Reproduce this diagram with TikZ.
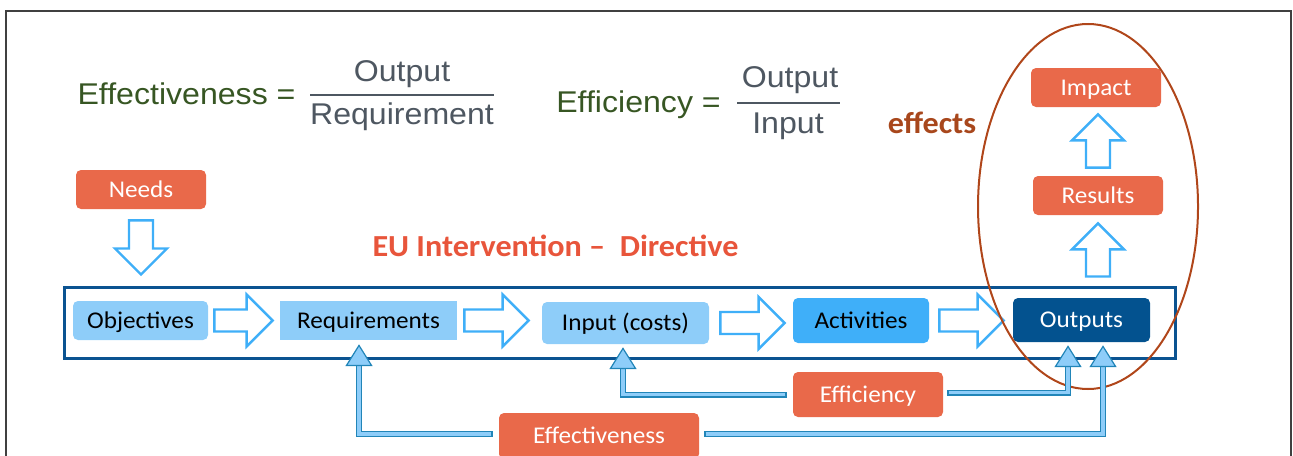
\documentclass[tikz,border=0pt]{standalone}
\usepackage{fontspec}
\setmainfont{Carlito}[FakeStretch=1.05]
\newfontfamily\formfont{Liberation Sans}[FakeStretch=1.07]
\usetikzlibrary{calc}

\definecolor{flagorange}{HTML}{E9694A}
\definecolor{lightstage}{HTML}{8ECDF9}
\definecolor{midstage}{HTML}{3FAFF9}
\definecolor{darkstage}{HTML}{03528F}
\definecolor{dirblue}{HTML}{0B5391}
\definecolor{arrowblue}{HTML}{3FAFF8}
\definecolor{fbfill}{HTML}{8ECDF9}
\definecolor{fbdraw}{HTML}{2185B8}
\definecolor{ringbrown}{HTML}{B0461A}
\definecolor{formgreen}{HTML}{375623}
\definecolor{formgray}{HTML}{4E5761}
\definecolor{effbrown}{HTML}{A8471C}
\definecolor{eured}{HTML}{E8553B}
\definecolor{slidegray}{HTML}{404040}

\tikzset{
  stage/.style={rounded corners=2.5pt, inner sep=0pt, font=\fontsize{12}{14}\selectfont,
    text height=7.8pt, text depth=0pt, text=black},
  flag/.style={stage, fill=flagorange, text=white},
  hollowarrow/.style={draw=arrowblue, fill=white, line width=1.2pt, line join=miter},
  feedhead/.style={draw=fbdraw, fill=fbfill, line width=0.6pt, line join=miter},
  formula/.style={font=\formfont\fontsize{15}{18}\selectfont, inner sep=0pt},
  fracbar/.style={formgray, line width=1pt},
  heading/.style={font=\bfseries\fontsize{15.3}{18}\selectfont, inner sep=0pt, anchor=base},
}

% block arrows: from, to, gap at tail, gap at tip (px)
\newcommand{\flowright}[4]{%
  \draw[hollowarrow] let \p1=($(#1)+(#3,0)$), \p2=($(#2)+(-#4,0)$) in
    (\x1,\y1+5.5pt) -- (\x2-13pt,\y1+5.5pt) -- (\x2-13pt,\y1+13pt) -- (\x2,\y1)
    -- (\x2-13pt,\y1-13pt) -- (\x2-13pt,\y1-5.5pt) -- (\x1,\y1-5.5pt) -- cycle;}
\newcommand{\flowup}[4]{%
  \draw[hollowarrow] let \p1=($(#1)+(0,-#3)$), \p2=($(#2)+(0,#4)$) in
    (\x1-6pt,\y1) -- (\x1-6pt,\y2-13pt) -- (\x1-13pt,\y2-13pt) -- (\x1,\y2)
    -- (\x1+13pt,\y2-13pt) -- (\x1+6pt,\y2-13pt) -- (\x1+6pt,\y1) -- cycle;}
\newcommand{\flowdown}[4]{%
  \draw[hollowarrow] let \p1=($(#1)+(0,#3)$), \p2=($(#2)+(0,-#4)$) in
    (\x1-6pt,\y1) -- (\x1-6pt,\y2+13pt) -- (\x1-13pt,\y2+13pt) -- (\x1,\y2)
    -- (\x1+13pt,\y2+13pt) -- (\x1+6pt,\y2+13pt) -- (\x1+6pt,\y1) -- cycle;}
% feedback connector: start point, tip point
\newcommand{\feedback}[2]{%
  \draw[fbdraw, line width=3pt] (#1) -| ($(#2)+(0,19)$);
  \draw[fbfill, line width=1.8pt, shorten <=0.6pt] (#1) -| ($(#2)+(0,19)$);
  \filldraw[feedhead] (#2) -- ++(-12.5,20) -- ++(25,0) -- cycle;}

\begin{document}
\begin{tikzpicture}[x=0.5pt, y=-0.5pt]
  \useasboundingbox (0,0) rectangle (1293,455);

  % slide border
  \draw[slidegray, line width=0.75pt] (6,470) -- (6,11) -- (1291,11) -- (1291,470);

  % formulas
  \node[formula, text=formgreen, anchor=base] (efftext) at (186.5,104) {Effectiveness =};
  \node[formula, text=formgray, anchor=base] (effnum) at (402,81) {Output};
  \node[formula, text=formgray, anchor=base] (effden) at (402,124) {Requirement};
  \draw[fracbar] (310,95) -- (494,95);

  \node[formula, text=formgreen, anchor=base] (efcytext) at (638.5,112) {Efficiency =};
  \node[formula, text=formgray, anchor=base] (efcynum) at (790,87) {Output};
  \node[formula, text=formgray, anchor=base] (efcyden) at (788,133) {Input};
  \draw[fracbar] (737,103) -- (840,103);

  \node[heading, text=effbrown] (effects) at (932,133) {effects};
  \node[heading, text=eured] (eu) at (555.5,256) {EU Intervention –\ \ Directive};

  % intervention frame
  \node[draw=dirblue, line width=1.5pt, minimum width=555.5pt, minimum height=35.5pt, inner sep=0pt] (directive) at (619.5,322.5) {};

  % boxes
  \node[flag, minimum width=65pt, minimum height=19.5pt] (needs) at (141,189.5) {Needs};
  \node[flag, minimum width=65pt, minimum height=19.5pt] (imp) at (1096,87.5) {Impact};
  \node[flag, minimum width=65pt, minimum height=19.5pt] (res) at (1098,195.5) {Results};
  \node[stage, fill=lightstage, minimum width=67.5pt, minimum height=19.5pt] (obj) at (140.5,320.5) {Objectives};
  \node[stage, fill=lightstage, sharp corners, minimum width=88.5pt, minimum height=19.5pt] (req) at (368.5,320.5) {Requirements};
  \node[stage, fill=lightstage, minimum width=83.5pt, minimum height=21pt] (inp) at (625.5,323) {Input (costs)};
  \node[stage, fill=midstage, minimum width=68pt, minimum height=22.5pt] (act) at (861,320.5) {Activities};
  \node[stage, fill=darkstage, text=white, minimum width=68.5pt, minimum height=22pt] (out) at (1081.5,320) {Outputs};
  \node[flag, minimum width=75pt, minimum height=22.5pt] (effc) at (868,394.5) {Efficiency};
  \node[flag, minimum width=100pt, minimum height=23pt] (effv) at (599,436) {Effectiveness};

  % flow arrows
  \flowdown{needs.south}{directive.north -| needs.south}{11}{11}
  \flowright{obj.east}{req.west}{6}{7}
  \flowright{req.east}{inp.west}{7}{13}
  \flowright{inp.east}{act.west}{11}{8}
  \flowright{act.east}{out.west}{10}{9}
  \flowup{directive.north -| res.south}{res.south}{9}{8}
  \flowup{res.north}{imp.south}{8}{7}

  % effects ring
  \draw[ringbrown, line width=1pt] (1088,206.5) ellipse [x radius=110, y radius=182.5];

  % feedback connectors
  \coordinate (inptip) at ($(inp.south)+(-2.5,4)$);
  \coordinate (reqtip) at ($(req.south)+(-9.5,5)$);
  \coordinate (outtipa) at ($(out.south)+(-13.5,4)$);
  \coordinate (outtipb) at ($(out.south)+(21.5,4)$);
  \feedback{$(effc.west)+(-6,0)$}{inptip}
  \feedback{$(effc.east)+(4,-2)$}{outtipa}
  \feedback{$(effv.west)+(-6,-2)$}{reqtip}
  \feedback{$(effv.east)+(5,-2)$}{outtipb}
\end{tikzpicture}
\end{document}
